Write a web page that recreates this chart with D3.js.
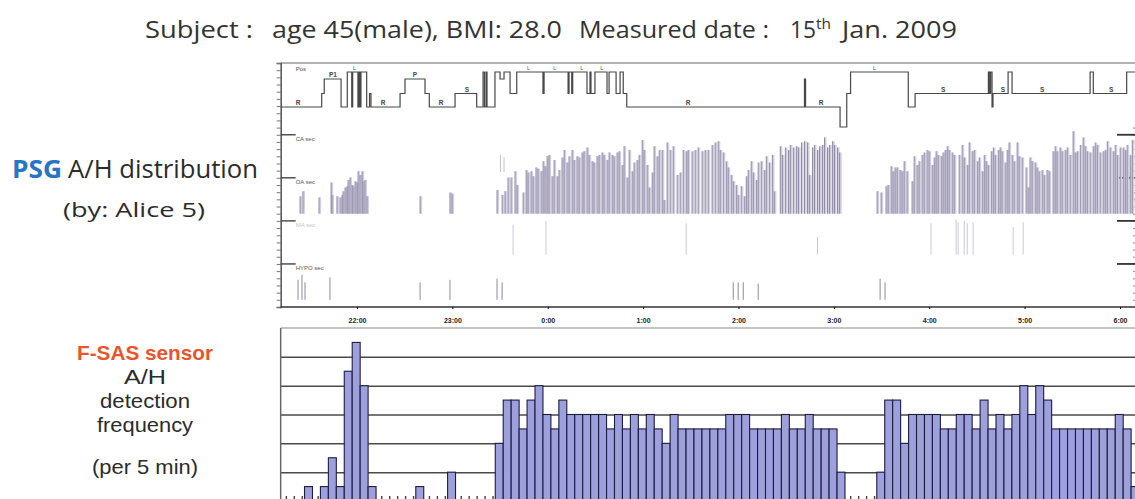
<!DOCTYPE html>
<html><head><meta charset="utf-8">
<script src="https://cdn.jsdelivr.net/npm/d3@7"></script>
<style>body{margin:0;background:#fff}svg{display:block}</style>
</head><body><svg id="c" width="1135" height="499"></svg>
<script>
// ---------- DATA ----------
const hourTicks = ["22:00","23:00","0:00","1:00","2:00","3:00","4:00","5:00","6:00"];
const hourTickMin = [60,120,180,240,300,360,420,480,540]; // minutes after 21:00
const barStartMin = 12, barStepMin = 5;
const fsasCounts = [0,0,0,1,0,1,3,1,9,11, 8,1,0,0,0,0,0,1,0,0, 0,2,0,0,0,0,0,4,7,7,
  5,7,8,6,5,7,6,6,6,6, 6,5,6,5,6,5,6,5,4,6, 5,5,5,5,5,5,6,6,6,5, 5,5,5,6,5,5,6,5,5,5,
  2,0,0,0,0,2,7,7,4,6, 6,6,6,5,5,6,6,5,7,5, 6,5,6,8,6,8,7,5,5,5, 5,5,5,5,5,6,5,1];
const yGridTicks = [2,4,6,8,10];

const posLevels = ["L","P","S","R","U"];
const posChangeMin = [12,37.8,39.4,50,53.9,56.7,57.3,60.6,61.3,61.9,62.5,66.1,67.9,68.8,87.1,90.2,102.8,105.5,121.7,135.3,
  139.3,140.2,141.2,141.8,146.8,150,152.5,156.3,160.5,177,177.7,192.8,193.4,195.1,195.7,204.7,206.6,207.2,209.7,217.3,
  218.6,223,225.5,227.5,229.7,341.5,342.2,363.9,368.1,370.5,406.8,411.1,457.2,458,458.6,459.5,460.1,469.6,472.1,521.2,523.2,544.2];
const posChangeLevel = ["R","S","P","R","L","R","L","R","L","R","L","R","S","R","S","P","S","R","S","R",
  "L","R","L","R","L","P","L","S","L","S","L","S","L","S","L","S","L","S","L","S",
  "L","S","L","S","R","P","R","U","S","L","R","S","L","S","L","R","S","L","S","L","S","L"];
const posEndMin = 550;
const posLabelMin = [22.9,44.9,76.4,96.5,112.9,129.2,268.3,351.9,428.7,466.4,491.0,534.4];
const posLabelText = ["R","P1","R","P","R","S","R","R","S","S","S","S"];
const posLabelLevel = ["R","P","R","P","R","S","R","R","S","S","S","S"];
const lMarkMin = [57.5,166.9,183.5,200.4,213.0,384.6];

const oaMin = [24.2,26.0,36.1,43.7,44.3,47.4,49.3,50.6,51.2,52.5,53.7,54.4,55.6,56.9,57.5,58.8,60.0,60.7,61.9,63.2,63.8,65.0,66.3,99.7,118.5,119.8,
  148.1,151.3,153.1,155.0,156.9,159.4,160.7,164.5,166.4,167.6,169.5,170.8,172.6,173.9,175.8,177.1,178.3,179.6,180.8,182.7,184.0,185.9,187.1,189.0,
  190.3,192.1,193.4,195.3,196.6,198.4,199.7,201.6,202.8,204.7,206.0,207.9,209.1,211.0,212.3,214.2,215.4,217.3,218.6,220.5,221.7,223.6,224.9,226.8,
  228.0,229.9,231.2,233.1,234.3,236.2,237.5,239.4,240.6,242.5,243.8,245.7,246.9,248.8,250.1,252.0,253.2,255.1,257.0,258.9,261.4,263.3,265.2,267.1,
  268.3,270.8,272.7,274.6,277.1,279.0,280.9,283.4,285.3,287.2,288.5,290.4,292.3,293.5,295.4,296.7,298.6,299.8,301.7,303.6,304.9,306.1,308.0,309.3,
  311.2,312.4,314.3,316.2,317.5,319.4,321.3,322.5,326.3,327.6,329.5,331.4,332.6,334.5,336.4,337.7,339.6,341.5,343.4,344.6,346.5,347.8,349.7,351.0,
  352.8,354.1,356.0,357.3,359.2,360.4,362.3,363.6,
  387.2,389.7,392.8,394.1,396.0,397.2,398.5,399.8,401.6,402.9,404.2,406.0,409.2,410.5,412.3,413.6,415.5,416.8,418.6,419.9,421.8,423.1,424.3,425.6,
  427.5,428.7,430.0,431.3,432.5,434.4,435.7,438.8,440.7,442.0,443.9,445.1,447.0,448.3,450.2,451.4,453.3,454.6,455.8,457.1,459.0,460.3,461.5,463.4,
  464.6,465.8,467.7,469.0,470.2,472.1,473.4,475.3,476.5,478.4,480.9,482.2,483.4,484.7,486.6,487.8,489.1,491.0,492.3,494.1,495.4,497.9,499.2,500.4,
  502.3,503.6,505.5,506.8,508.6,510.5,511.8,513.1,515.0,516.8,518.1,519.4,521.2,523.1,524.4,525.7,527.5,529.4,530.7,532.0,533.8,535.7,537.0,538.3,
  540.1,542.0,543.3,544.5,546.4,547.7];
const oaSec = [14,18,13,25,15,14,13,15,18,21,22,27,29,23,22,26,25,34,31,34,26,27,14,14,17,16,
  19,15,18,29,29,34,23,17,35,33,34,30,37,36,34,42,38,46,47,30,43,30,35,45,
  51,41,46,51,43,46,45,49,50,53,47,42,41,46,47,49,47,43,49,47,46,49,50,39,
  54,29,51,34,41,43,47,59,51,39,21,33,54,46,51,51,11,57,51,54,31,33,51,50,
  51,50,51,53,50,51,51,55,57,58,51,49,42,37,31,26,23,15,22,14,30,35,42,33,
  27,41,42,35,46,41,47,18,54,47,53,51,55,53,54,53,57,58,57,31,53,55,51,54,
  55,61,53,55,58,55,53,49,
  18,17,22,23,38,34,37,37,35,34,42,34,26,46,39,42,47,49,51,50,39,45,50,47,
  46,49,51,54,51,49,47,47,55,45,39,57,50,51,42,45,34,47,42,39,50,53,47,51,
  53,50,41,51,57,47,42,57,46,45,37,21,45,42,41,37,34,35,31,35,34,50,54,50,
  53,50,51,53,47,66,49,50,55,61,54,50,49,54,57,55,49,50,51,58,53,50,55,47,
  53,53,51,55,47,59];
const caMin = [150.3,152.5], caSec = [14,12];
const maMin = [158.2,178.9,267.1,349.7,421.1,436.9,438.2,442.0,443.9,447.6,472.8,479.1];
const maSec = [24,27,25,14,25,28,26,27,25,26,22,26];
const hypoMin = [22.9,25.4,27.3,43.0,99.7,118.5,148.1,151.3,296.7,299.8,303.0,312.4,389.1,392.2];
const hypoSec = [16,20,14,18,14,16,17,14,14,14,14,13,17,14];
const channelNames = ["Pos","CA sec","OA sec","MA sec","HYPO sec"];

// ---------- DRAW ----------
const W = 1135, H = 499;
const svg = d3.select("#c");
svg.append("rect").attr("width", W).attr("height", H).attr("fill", "#fff");

const x = d3.scaleLinear().domain([0, 540]).range([261.6, 1120]);
const leftX = x(barStartMin);
const rowY = d3.scaleLinear().domain([0, 34]).range([307, 63]);
const secPx = d3.scaleLinear().domain([0, 60]).range([0, 75]);
const posY = d3.scaleOrdinal().domain(posLevels).range([72, 79, 93.5, 107, 127]);
const sans = "'Open Sans', 'Noto Sans', sans-serif";
const tight = "'Liberation Sans', Arial, sans-serif";

function label(t, xx, yy, size, len, opts = {}) {
  const el = svg.append("text").attr("x", xx).attr("y", yy).attr("font-family", opts.font || sans)
    .attr("font-size", size).attr("fill", opts.fill || "#2b2b2b").text(t);
  if (opts.bold) el.attr("font-weight", "bold");
  if (opts.anchor) el.attr("text-anchor", opts.anchor);
  if (len) el.attr("textLength", len).attr("lengthAdjust", "spacingAndGlyphs");
  return el;
}

// Title
label("Subject :", 145, 38, 24, 108, { fill: "#333" });
label("age 45(male), BMI: 28.0", 272, 38, 24, 290, { fill: "#333" });
label("Measured date :", 579, 38, 24, 190, { fill: "#333" });
label("15", 790, 38, 24, 26, { fill: "#333" });
label("th", 816, 29, 14, 15, { fill: "#333" });
label("Jan. 2009", 842, 38, 24, 115, { fill: "#333" });

// Left labels
label("PSG", 12, 178, 25, 50, { bold: true, fill: "#2a74c6" });
label("A/H distribution", 68, 178, 25, 190);
label("(by:  Alice 5)", 63, 217, 20, 142);
label("F-SAS sensor", 145, 360, 21, 136, { bold: true, fill: "#e8552d", anchor: "middle", font: tight });
label("A/H", 145, 384, 21, 42, { anchor: "middle", font: tight });
label("detection", 145, 408, 21, 90, { anchor: "middle", font: tight });
label("frequency", 145, 432, 21, 96, { anchor: "middle", font: tight });
label("(per 5 min)", 145, 474, 21, 106, { anchor: "middle", font: tight });

// ---------- PSG panel ----------
const psgG = svg.append("g");
psgG.append("g").attr("transform", `translate(${leftX},0)`)
  .call(d3.axisLeft(rowY).tickValues(d3.range(0, 35)).tickSize(4).tickFormat(""))
  .call(g => g.select(".domain").attr("stroke", "#444").attr("stroke-width", 1.4))
  .call(g => g.selectAll(".tick line").attr("stroke", "#777"));
psgG.append("g").attr("transform", `translate(${W - 2},0)`)
  .call(d3.axisRight(rowY).tickValues(d3.range(1, 26)).tickSize(2).tickFormat(""))
  .call(g => g.select(".domain").remove())
  .call(g => g.selectAll(".tick line").attr("stroke", "#888"));
psgG.append("line").attr("x1", leftX).attr("x2", W).attr("y1", rowY(34)).attr("y2", rowY(34)).attr("stroke", "#666").attr("stroke-width", 1.2);
psgG.append("line").attr("x1", leftX).attr("x2", W).attr("y1", rowY(0)).attr("y2", rowY(0)).attr("stroke", "#333").attr("stroke-width", 1.5);
psgG.append("g").attr("transform", `translate(0,${rowY(0)})`)
  .call(d3.axisBottom(x).tickValues(hourTickMin).tickFormat((d, i) => hourTicks[i]).tickSize(2).tickPadding(9))
  .call(g => g.select(".domain").remove())
  .call(g => g.selectAll("text").attr("font-family", tight).attr("font-size", 7).attr("font-weight", "bold").attr("fill", "#222"));
[6, 12, 18, 24].forEach(r => {
  psgG.append("line").attr("x1", leftX).attr("x2", leftX + 15).attr("y1", rowY(r)).attr("y2", rowY(r)).attr("stroke", "#444").attr("stroke-width", 1.4);
  psgG.append("line").attr("x1", W - 18).attr("x2", W).attr("y1", rowY(r)).attr("y2", rowY(r)).attr("stroke", "#333").attr("stroke-width", 1.8);
});
const chanRows = [32.9, 23.2, 17.2, 11.2, 5.2];
channelNames.forEach((n, i) => psgG.append("text").attr("x", leftX + 15).attr("y", rowY(chanRows[i]))
  .attr("font-family", tight).attr("font-size", 6)
  .attr("fill", n === "MA sec" ? "#c8c8d0" : "#555").text(n));

const posData = posChangeMin.map((m, i) => ({ m, l: posChangeLevel[i] }));
posData.push({ m: posEndMin, l: posChangeLevel[posChangeLevel.length - 1] });
psgG.append("path").datum(posData)
  .attr("d", d3.line().x(d => x(d.m)).y(d => posY(d.l)).curve(d3.curveStepAfter))
  .attr("fill", "none").attr("stroke", "#484848").attr("stroke-width", 1.2);
posLabelMin.forEach((m, i) => psgG.append("text").attr("x", x(m)).attr("y", posY(posLabelLevel[i]) - 2)
  .attr("text-anchor", "middle").attr("font-family", tight).attr("font-size", 6.5)
  .attr("font-weight", "bold").attr("fill", "#444").text(posLabelText[i]));
lMarkMin.forEach(m => psgG.append("text").attr("x", x(m)).attr("y", 70)
  .attr("font-family", tight).attr("font-size", 5.5).attr("fill", "#555").text("L"));

function drawEvents(mins, secs, baseline, fill, stroke, w) {
  const g = psgG.append("g");
  const ev = mins.map((m, i) => ({ m, s: secs[i] }));
  if (fill) g.selectAll("rect").data(ev).join("rect")
    .attr("x", d => x(d.m)).attr("y", d => baseline - secPx(d.s)).attr("width", 2.1)
    .attr("height", d => secPx(d.s)).attr("fill", fill);
  g.selectAll("line").data(ev).join("line")
    .attr("x1", d => x(d.m)).attr("x2", d => x(d.m))
    .attr("y1", baseline).attr("y2", d => baseline - secPx(d.s))
    .attr("stroke", stroke).attr("stroke-width", w);
}
drawEvents(oaMin, oaSec, rowY(13), "#d2cfdf", "#8f89a6", 1);
drawEvents(caMin, caSec, rowY(18.8), null, "#c4c0d4", 1);
drawEvents(maMin, maSec, rowY(7.3), null, "#cbc8d8", 1);
drawEvents(hypoMin, hypoSec, rowY(1), null, "#8c8aa2", 1);

// ---------- F-SAS bar chart ----------
const yBar = d3.scaleLinear().domain([0, 12]).range([501, 328]);
const barG = svg.append("g");
barG.append("g").attr("transform", `translate(${leftX},0)`)
  .call(d3.axisLeft(yBar).tickValues(yGridTicks).tickSize(-(W - leftX)).tickFormat(""))
  .call(g => g.select(".domain").remove())
  .call(g => g.selectAll(".tick line").attr("stroke", "#4a4a4a").attr("stroke-width", 1.5));
barG.append("line").attr("x1", leftX).attr("x2", W).attr("y1", yBar(12)).attr("y2", yBar(12)).attr("stroke", "#c4c4c4").attr("stroke-width", 2);
barG.append("line").attr("x1", leftX).attr("x2", leftX).attr("y1", yBar(12)).attr("y2", H).attr("stroke", "#666").attr("stroke-width", 1.5);

const bars = fsasCounts.map((v, k) => ({ v, t0: barStartMin + k * barStepMin, t1: barStartMin + (k + 1) * barStepMin }));
barG.selectAll("rect.bar").data(bars.filter(d => d.v > 0)).join("rect").attr("class", "bar")
  .attr("x", d => x(d.t0)).attr("width", d => x(d.t1) - x(d.t0))
  .attr("y", d => yBar(d.v)).attr("height", d => yBar(0) - yBar(d.v))
  .attr("fill", "#9da0dc").attr("stroke", "#1d1d3c").attr("stroke-width", 1.1);
barG.selectAll("rect.zero").data(bars.filter(d => d.v === 0)).join("rect").attr("class", "zero")
  .attr("x", d => x(d.t0) + 5).attr("width", 1.4).attr("y", yBar(0) - 5).attr("height", 3).attr("fill", "#444");
</script></body></html>
